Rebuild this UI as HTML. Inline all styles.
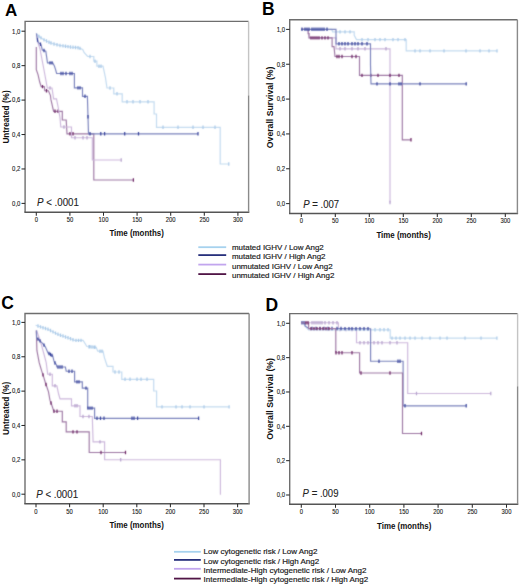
<!DOCTYPE html>
<html><head><meta charset="utf-8"><title>Kaplan-Meier figure</title>
<style>html,body{margin:0;padding:0;background:#fff;}body{width:520px;height:586px;overflow:hidden;font-family:'Liberation Sans', sans-serif;}svg{display:block;}</style>
</head><body>
<svg width="520" height="586" viewBox="0 0 520 586" font-family="'Liberation Sans', sans-serif">
<defs><filter id="bl" x="0" y="0" width="520" height="586" filterUnits="userSpaceOnUse" color-interpolation-filters="sRGB"><feConvolveMatrix order="3" kernelMatrix="0.03 0.09 0.03 0.09 0.52 0.09 0.03 0.09 0.03" edgeMode="duplicate"/></filter></defs>
<rect width="520" height="586" fill="#fff"/>
<text x="4.9" y="16.4" font-size="17" font-weight="bold" fill="#000">A</text>
<text x="262" y="14.8" font-size="17.5" font-weight="bold" fill="#000">B</text>
<text x="1.2" y="308.6" font-size="17.5" font-weight="bold" fill="#000">C</text>
<text x="265.6" y="310.5" font-size="17.5" font-weight="bold" fill="#000">D</text>
<path d="M25.1,212.2 L25.1,21.4 L248.6,21.4" fill="none" stroke="#6e6e6e" stroke-width="1.4"/>
<path d="M24.400000000000002,212.2 L249.29999999999998,212.2" fill="none" stroke="#555" stroke-width="1.5"/>
<path d="M248.6,21.4 L248.6,95.4" stroke="#c4c4c4" stroke-width="1.4"/>
<path d="M248.6,95.4 L248.6,212.2" stroke="#8a8a8a" stroke-width="1.4"/>
<path d="M21.5,31.20 L25.1,31.20" stroke="#2a2a2a" stroke-width="1.05"/>
<text transform="translate(20.40,33.50) scale(0.93,1)" font-size="6.4" text-anchor="end" fill="#222" stroke="#222" stroke-width="0.12">1,0</text>
<path d="M21.5,65.64 L25.1,65.64" stroke="#2a2a2a" stroke-width="1.05"/>
<text transform="translate(20.40,67.94) scale(0.93,1)" font-size="6.4" text-anchor="end" fill="#222" stroke="#222" stroke-width="0.12">0,8</text>
<path d="M21.5,100.08 L25.1,100.08" stroke="#2a2a2a" stroke-width="1.05"/>
<text transform="translate(20.40,102.38) scale(0.93,1)" font-size="6.4" text-anchor="end" fill="#222" stroke="#222" stroke-width="0.12">0,6</text>
<path d="M21.5,134.52 L25.1,134.52" stroke="#2a2a2a" stroke-width="1.05"/>
<text transform="translate(20.40,136.82) scale(0.93,1)" font-size="6.4" text-anchor="end" fill="#222" stroke="#222" stroke-width="0.12">0,4</text>
<path d="M21.5,168.96 L25.1,168.96" stroke="#2a2a2a" stroke-width="1.05"/>
<text transform="translate(20.40,171.26) scale(0.93,1)" font-size="6.4" text-anchor="end" fill="#222" stroke="#222" stroke-width="0.12">0,2</text>
<path d="M21.5,203.40 L25.1,203.40" stroke="#2a2a2a" stroke-width="1.05"/>
<text transform="translate(20.40,205.70) scale(0.93,1)" font-size="6.4" text-anchor="end" fill="#222" stroke="#222" stroke-width="0.12">0,0</text>
<path d="M36.30,212.2 L36.30,215.79999999999998" stroke="#2a2a2a" stroke-width="1.05"/>
<text transform="translate(36.30,222.00) scale(0.92,1)" font-size="6.4" text-anchor="middle" fill="#222" stroke="#222" stroke-width="0.12">0</text>
<path d="M69.90,212.2 L69.90,215.79999999999998" stroke="#2a2a2a" stroke-width="1.05"/>
<text transform="translate(69.90,222.00) scale(0.92,1)" font-size="6.4" text-anchor="middle" fill="#222" stroke="#222" stroke-width="0.12">50</text>
<path d="M103.50,212.2 L103.50,215.79999999999998" stroke="#2a2a2a" stroke-width="1.05"/>
<text transform="translate(103.50,222.00) scale(0.92,1)" font-size="6.4" text-anchor="middle" fill="#222" stroke="#222" stroke-width="0.12">100</text>
<path d="M137.10,212.2 L137.10,215.79999999999998" stroke="#2a2a2a" stroke-width="1.05"/>
<text transform="translate(137.10,222.00) scale(0.92,1)" font-size="6.4" text-anchor="middle" fill="#222" stroke="#222" stroke-width="0.12">150</text>
<path d="M170.70,212.2 L170.70,215.79999999999998" stroke="#2a2a2a" stroke-width="1.05"/>
<text transform="translate(170.70,222.00) scale(0.92,1)" font-size="6.4" text-anchor="middle" fill="#222" stroke="#222" stroke-width="0.12">200</text>
<path d="M204.30,212.2 L204.30,215.79999999999998" stroke="#2a2a2a" stroke-width="1.05"/>
<text transform="translate(204.30,222.00) scale(0.92,1)" font-size="6.4" text-anchor="middle" fill="#222" stroke="#222" stroke-width="0.12">250</text>
<path d="M237.90,212.2 L237.90,215.79999999999998" stroke="#2a2a2a" stroke-width="1.05"/>
<text transform="translate(237.90,222.00) scale(0.92,1)" font-size="6.4" text-anchor="middle" fill="#222" stroke="#222" stroke-width="0.12">300</text>
<path d="M289.7,213.5 L289.7,19.7 L517.4,19.7" fill="none" stroke="#6e6e6e" stroke-width="1.4"/>
<path d="M289.0,213.5 L518.1,213.5" fill="none" stroke="#555" stroke-width="1.5"/>
<path d="M517.4,19.7 L517.4,213.5" stroke="#8a8a8a" stroke-width="1.4"/>
<path d="M286.09999999999997,29.40 L289.7,29.40" stroke="#2a2a2a" stroke-width="1.05"/>
<text transform="translate(285.00,31.70) scale(0.93,1)" font-size="6.4" text-anchor="end" fill="#222" stroke="#222" stroke-width="0.12">1,0</text>
<path d="M286.09999999999997,64.24 L289.7,64.24" stroke="#2a2a2a" stroke-width="1.05"/>
<text transform="translate(285.00,66.54) scale(0.93,1)" font-size="6.4" text-anchor="end" fill="#222" stroke="#222" stroke-width="0.12">0,8</text>
<path d="M286.09999999999997,99.08 L289.7,99.08" stroke="#2a2a2a" stroke-width="1.05"/>
<text transform="translate(285.00,101.38) scale(0.93,1)" font-size="6.4" text-anchor="end" fill="#222" stroke="#222" stroke-width="0.12">0,6</text>
<path d="M286.09999999999997,133.92 L289.7,133.92" stroke="#2a2a2a" stroke-width="1.05"/>
<text transform="translate(285.00,136.22) scale(0.93,1)" font-size="6.4" text-anchor="end" fill="#222" stroke="#222" stroke-width="0.12">0,4</text>
<path d="M286.09999999999997,168.76 L289.7,168.76" stroke="#2a2a2a" stroke-width="1.05"/>
<text transform="translate(285.00,171.06) scale(0.93,1)" font-size="6.4" text-anchor="end" fill="#222" stroke="#222" stroke-width="0.12">0,2</text>
<path d="M286.09999999999997,203.60 L289.7,203.60" stroke="#2a2a2a" stroke-width="1.05"/>
<text transform="translate(285.00,205.90) scale(0.93,1)" font-size="6.4" text-anchor="end" fill="#222" stroke="#222" stroke-width="0.12">0,0</text>
<path d="M301.30,213.5 L301.30,217.1" stroke="#2a2a2a" stroke-width="1.05"/>
<text transform="translate(301.30,223.30) scale(0.92,1)" font-size="6.4" text-anchor="middle" fill="#222" stroke="#222" stroke-width="0.12">0</text>
<path d="M335.30,213.5 L335.30,217.1" stroke="#2a2a2a" stroke-width="1.05"/>
<text transform="translate(335.30,223.30) scale(0.92,1)" font-size="6.4" text-anchor="middle" fill="#222" stroke="#222" stroke-width="0.12">50</text>
<path d="M369.30,213.5 L369.30,217.1" stroke="#2a2a2a" stroke-width="1.05"/>
<text transform="translate(369.30,223.30) scale(0.92,1)" font-size="6.4" text-anchor="middle" fill="#222" stroke="#222" stroke-width="0.12">100</text>
<path d="M403.30,213.5 L403.30,217.1" stroke="#2a2a2a" stroke-width="1.05"/>
<text transform="translate(403.30,223.30) scale(0.92,1)" font-size="6.4" text-anchor="middle" fill="#222" stroke="#222" stroke-width="0.12">150</text>
<path d="M437.30,213.5 L437.30,217.1" stroke="#2a2a2a" stroke-width="1.05"/>
<text transform="translate(437.30,223.30) scale(0.92,1)" font-size="6.4" text-anchor="middle" fill="#222" stroke="#222" stroke-width="0.12">200</text>
<path d="M471.30,213.5 L471.30,217.1" stroke="#2a2a2a" stroke-width="1.05"/>
<text transform="translate(471.30,223.30) scale(0.92,1)" font-size="6.4" text-anchor="middle" fill="#222" stroke="#222" stroke-width="0.12">250</text>
<path d="M505.30,213.5 L505.30,217.1" stroke="#2a2a2a" stroke-width="1.05"/>
<text transform="translate(505.30,223.30) scale(0.92,1)" font-size="6.4" text-anchor="middle" fill="#222" stroke="#222" stroke-width="0.12">300</text>
<path d="M25.0,503.7 L25.0,313.5 L249.1,313.5" fill="none" stroke="#6e6e6e" stroke-width="1.4"/>
<path d="M24.3,503.7 L249.79999999999998,503.7" fill="none" stroke="#555" stroke-width="1.5"/>
<path d="M249.1,313.5 L249.1,503.7" stroke="#8a8a8a" stroke-width="1.4"/>
<path d="M21.4,322.40 L25.0,322.40" stroke="#2a2a2a" stroke-width="1.05"/>
<text transform="translate(20.30,324.70) scale(0.93,1)" font-size="6.4" text-anchor="end" fill="#222" stroke="#222" stroke-width="0.12">1,0</text>
<path d="M21.4,356.76 L25.0,356.76" stroke="#2a2a2a" stroke-width="1.05"/>
<text transform="translate(20.30,359.06) scale(0.93,1)" font-size="6.4" text-anchor="end" fill="#222" stroke="#222" stroke-width="0.12">0,8</text>
<path d="M21.4,391.12 L25.0,391.12" stroke="#2a2a2a" stroke-width="1.05"/>
<text transform="translate(20.30,393.42) scale(0.93,1)" font-size="6.4" text-anchor="end" fill="#222" stroke="#222" stroke-width="0.12">0,6</text>
<path d="M21.4,425.48 L25.0,425.48" stroke="#2a2a2a" stroke-width="1.05"/>
<text transform="translate(20.30,427.78) scale(0.93,1)" font-size="6.4" text-anchor="end" fill="#222" stroke="#222" stroke-width="0.12">0,4</text>
<path d="M21.4,459.84 L25.0,459.84" stroke="#2a2a2a" stroke-width="1.05"/>
<text transform="translate(20.30,462.14) scale(0.93,1)" font-size="6.4" text-anchor="end" fill="#222" stroke="#222" stroke-width="0.12">0,2</text>
<path d="M21.4,494.20 L25.0,494.20" stroke="#2a2a2a" stroke-width="1.05"/>
<text transform="translate(20.30,496.50) scale(0.93,1)" font-size="6.4" text-anchor="end" fill="#222" stroke="#222" stroke-width="0.12">0,0</text>
<path d="M36.00,503.7 L36.00,507.3" stroke="#2a2a2a" stroke-width="1.05"/>
<text transform="translate(36.00,513.50) scale(0.92,1)" font-size="6.4" text-anchor="middle" fill="#222" stroke="#222" stroke-width="0.12">0</text>
<path d="M69.60,503.7 L69.60,507.3" stroke="#2a2a2a" stroke-width="1.05"/>
<text transform="translate(69.60,513.50) scale(0.92,1)" font-size="6.4" text-anchor="middle" fill="#222" stroke="#222" stroke-width="0.12">50</text>
<path d="M103.20,503.7 L103.20,507.3" stroke="#2a2a2a" stroke-width="1.05"/>
<text transform="translate(103.20,513.50) scale(0.92,1)" font-size="6.4" text-anchor="middle" fill="#222" stroke="#222" stroke-width="0.12">100</text>
<path d="M136.80,503.7 L136.80,507.3" stroke="#2a2a2a" stroke-width="1.05"/>
<text transform="translate(136.80,513.50) scale(0.92,1)" font-size="6.4" text-anchor="middle" fill="#222" stroke="#222" stroke-width="0.12">150</text>
<path d="M170.40,503.7 L170.40,507.3" stroke="#2a2a2a" stroke-width="1.05"/>
<text transform="translate(170.40,513.50) scale(0.92,1)" font-size="6.4" text-anchor="middle" fill="#222" stroke="#222" stroke-width="0.12">200</text>
<path d="M204.00,503.7 L204.00,507.3" stroke="#2a2a2a" stroke-width="1.05"/>
<text transform="translate(204.00,513.50) scale(0.92,1)" font-size="6.4" text-anchor="middle" fill="#222" stroke="#222" stroke-width="0.12">250</text>
<path d="M237.60,503.7 L237.60,507.3" stroke="#2a2a2a" stroke-width="1.05"/>
<text transform="translate(237.60,513.50) scale(0.92,1)" font-size="6.4" text-anchor="middle" fill="#222" stroke="#222" stroke-width="0.12">300</text>
<path d="M289.7,504.2 L289.7,313.6 L517.6,313.6" fill="none" stroke="#6e6e6e" stroke-width="1.4"/>
<path d="M289.0,504.2 L518.3000000000001,504.2" fill="none" stroke="#555" stroke-width="1.5"/>
<path d="M517.6,313.6 L517.6,386.3" stroke="#c4c4c4" stroke-width="1.4"/>
<path d="M517.6,386.3 L517.6,504.2" stroke="#8a8a8a" stroke-width="1.4"/>
<path d="M286.09999999999997,323.30 L289.7,323.30" stroke="#2a2a2a" stroke-width="1.05"/>
<text transform="translate(285.00,325.60) scale(0.93,1)" font-size="6.4" text-anchor="end" fill="#222" stroke="#222" stroke-width="0.12">1,0</text>
<path d="M286.09999999999997,357.64 L289.7,357.64" stroke="#2a2a2a" stroke-width="1.05"/>
<text transform="translate(285.00,359.94) scale(0.93,1)" font-size="6.4" text-anchor="end" fill="#222" stroke="#222" stroke-width="0.12">0,8</text>
<path d="M286.09999999999997,391.98 L289.7,391.98" stroke="#2a2a2a" stroke-width="1.05"/>
<text transform="translate(285.00,394.28) scale(0.93,1)" font-size="6.4" text-anchor="end" fill="#222" stroke="#222" stroke-width="0.12">0,6</text>
<path d="M286.09999999999997,426.32 L289.7,426.32" stroke="#2a2a2a" stroke-width="1.05"/>
<text transform="translate(285.00,428.62) scale(0.93,1)" font-size="6.4" text-anchor="end" fill="#222" stroke="#222" stroke-width="0.12">0,4</text>
<path d="M286.09999999999997,460.66 L289.7,460.66" stroke="#2a2a2a" stroke-width="1.05"/>
<text transform="translate(285.00,462.96) scale(0.93,1)" font-size="6.4" text-anchor="end" fill="#222" stroke="#222" stroke-width="0.12">0,2</text>
<path d="M286.09999999999997,495.00 L289.7,495.00" stroke="#2a2a2a" stroke-width="1.05"/>
<text transform="translate(285.00,497.30) scale(0.93,1)" font-size="6.4" text-anchor="end" fill="#222" stroke="#222" stroke-width="0.12">0,0</text>
<path d="M301.30,504.2 L301.30,507.8" stroke="#2a2a2a" stroke-width="1.05"/>
<text transform="translate(301.30,514.00) scale(0.92,1)" font-size="6.4" text-anchor="middle" fill="#222" stroke="#222" stroke-width="0.12">0</text>
<path d="M335.50,504.2 L335.50,507.8" stroke="#2a2a2a" stroke-width="1.05"/>
<text transform="translate(335.50,514.00) scale(0.92,1)" font-size="6.4" text-anchor="middle" fill="#222" stroke="#222" stroke-width="0.12">50</text>
<path d="M369.70,504.2 L369.70,507.8" stroke="#2a2a2a" stroke-width="1.05"/>
<text transform="translate(369.70,514.00) scale(0.92,1)" font-size="6.4" text-anchor="middle" fill="#222" stroke="#222" stroke-width="0.12">100</text>
<path d="M403.90,504.2 L403.90,507.8" stroke="#2a2a2a" stroke-width="1.05"/>
<text transform="translate(403.90,514.00) scale(0.92,1)" font-size="6.4" text-anchor="middle" fill="#222" stroke="#222" stroke-width="0.12">150</text>
<path d="M438.10,504.2 L438.10,507.8" stroke="#2a2a2a" stroke-width="1.05"/>
<text transform="translate(438.10,514.00) scale(0.92,1)" font-size="6.4" text-anchor="middle" fill="#222" stroke="#222" stroke-width="0.12">200</text>
<path d="M472.30,504.2 L472.30,507.8" stroke="#2a2a2a" stroke-width="1.05"/>
<text transform="translate(472.30,514.00) scale(0.92,1)" font-size="6.4" text-anchor="middle" fill="#222" stroke="#222" stroke-width="0.12">250</text>
<path d="M506.50,504.2 L506.50,507.8" stroke="#2a2a2a" stroke-width="1.05"/>
<text transform="translate(506.50,514.00) scale(0.92,1)" font-size="6.4" text-anchor="middle" fill="#222" stroke="#222" stroke-width="0.12">300</text>
<text transform="translate(8.9,117.0) rotate(-90)" x="0" y="0" font-size="8.2" font-weight="bold" text-anchor="middle" fill="#111">Untreated (%)</text>
<text transform="translate(273.1,107.4) rotate(-90)" x="0" y="0" font-size="8.7" font-weight="bold" text-anchor="middle" fill="#111">Overall Survival (%)</text>
<text transform="translate(8.9,408.4) rotate(-90)" x="0" y="0" font-size="8.2" font-weight="bold" text-anchor="middle" fill="#111">Untreated (%)</text>
<text transform="translate(273.1,398.9) rotate(-90)" x="0" y="0" font-size="8.7" font-weight="bold" text-anchor="middle" fill="#111">Overall Survival (%)</text>
<text x="136.6" y="236.4" font-size="8.6" font-weight="bold" text-anchor="middle" fill="#111" textLength="54.4" lengthAdjust="spacingAndGlyphs">Time (months)</text>
<text x="403.6" y="237.8" font-size="8.6" font-weight="bold" text-anchor="middle" fill="#111" textLength="54.4" lengthAdjust="spacingAndGlyphs">Time (months)</text>
<text x="136.6" y="527.9" font-size="8.6" font-weight="bold" text-anchor="middle" fill="#111" textLength="54.4" lengthAdjust="spacingAndGlyphs">Time (months)</text>
<text x="404.2" y="528.5" font-size="8.6" font-weight="bold" text-anchor="middle" fill="#111" textLength="54.4" lengthAdjust="spacingAndGlyphs">Time (months)</text>
<text transform="translate(37.0,206.0) scale(0.9,1)" font-size="10.8" fill="#222" stroke="#222" stroke-width="0.1"><tspan font-style="italic">P</tspan> &lt; .0001</text>
<text transform="translate(303.3,207.6) scale(0.92,1)" font-size="10.4" fill="#222" stroke="#222" stroke-width="0.1"><tspan font-style="italic">P</tspan> = .007</text>
<text transform="translate(36.2,497.5) scale(0.9,1)" font-size="10.8" fill="#222" stroke="#222" stroke-width="0.1"><tspan font-style="italic">P</tspan> &lt; .0001</text>
<text transform="translate(302.6,497.4) scale(0.92,1)" font-size="10.4" fill="#222" stroke="#222" stroke-width="0.1"><tspan font-style="italic">P</tspan> = .009</text>
<g filter="url(#bl)">
<path d="M36.3,47 L36.3,69.7 L38.1,74.8 L39.7,82 L41.2,86.6 L44.3,86.6 L44.8,90.7 L48.4,90.7 L50.4,95.3 L50.9,99.4 L53.6,111.3 L62.3,111.3 L62.3,120 L66.2,120 L67,133.8 L93.8,133.8 L93.8,180 L133.4,180" fill="none" stroke="#9e78a4" stroke-width="1.15" stroke-linejoin="miter"/>
<path d="M42.5,84.89999999999999 L42.5,88.3 M46.5,89.0 L46.5,92.4 M55,109.6 L55,113.0 M58,109.6 L58,113.0 M70,132.10000000000002 L70,135.5 M73,132.10000000000002 L73,135.5 M133.4,178.3 L133.4,181.7" stroke="#6a2060" stroke-width="1.2"/>
<path d="M36.4,33.5 L38.1,43 L40,49 L44,70 L47.3,88 L52,88 L53.6,98.8 L56.5,98.8 L58.3,108 L60,117.7 L60.8,127 L71.5,127 L71.5,137.7 L92.3,137.7 L92.3,160 L121.2,160" fill="none" stroke="#cdb8dc" stroke-width="1.15" stroke-linejoin="miter"/>
<path d="M50,86.3 L50,89.7 M64,125.3 L64,128.7 M75,136.0 L75,139.39999999999998 M83,136.0 L83,139.39999999999998 M87,136.0 L87,139.39999999999998 M121.2,158.3 L121.2,161.7" stroke="#b4a0cc" stroke-width="1.2"/>
<path d="M36.4,33.3 L39,36.5 L43.5,39.6 L48,41.8 L52.7,43.6 L59.6,45.4 L71,47.1 L78,47.7 L82.7,49.4 L84.2,52.7 L87.7,56.5 L93.8,56.5 L93.8,61.2 L96.9,61.2 L96.9,66.2 L103,66.2 L105.4,77.3 L107,88 L113.8,88 L113.8,93.8 L122.2,93.8 L122.2,101.8 L154.1,101.8 L154.1,114 L156.5,114 L156.5,127.3 L220.2,127.3 L220.2,164 L228.8,164" fill="none" stroke="#c4dbf0" stroke-width="1.2" stroke-linejoin="miter"/>
<path d="M39,34.8 L39,38.2 M41,36.18 L41,39.580000000000005 M44,38.14 L44,41.540000000000006 M46.5,39.37 L46.5,42.77 M49,40.48 L49,43.88 M51,41.25 L51,44.650000000000006 M54,42.239999999999995 L54,45.64 M57,43.019999999999996 L57,46.42 M60,43.76 L60,47.160000000000004 M63,44.209999999999994 L63,47.61 M65.5,44.58 L65.5,47.980000000000004 M68,44.949999999999996 L68,48.35 M70.5,45.33 L70.5,48.730000000000004 M73,45.57 L73,48.970000000000006 M75.5,45.79 L75.5,49.190000000000005 M78,46.0 L78,49.400000000000006 M80,46.72 L80,50.120000000000005 M90,54.8 L90,58.2 M95,59.5 L95,62.900000000000006 M99,64.5 L99,67.9 M101,64.5 L101,67.9 M110,86.3 L110,89.7 M117,92.1 L117,95.5 M127,100.1 L127,103.5 M133,100.1 L133,103.5 M140,100.1 L140,103.5 M148,100.1 L148,103.5 M163,125.6 L163,129.0 M178,125.6 L178,129.0 M193,125.6 L193,129.0 M203,125.6 L203,129.0 M215,125.6 L215,129.0 M228.8,162.3 L228.8,165.7" stroke="#a9c9e8" stroke-width="1.2"/>
<path d="M36.4,33.5 L37.5,40 L38.3,42.5 L41.1,44.8 L42.3,50 L45.8,51.1 L46.3,54.6 L47.5,62.9 L52.7,62.9 L54.4,66.1 L55.6,69.6 L56.6,73.5 L74.4,73.5 L74.4,87.9 L82.5,87.9 L82.5,96.3 L87.4,96.3 L88.5,133.8 L198,133.8" fill="none" stroke="#7a82bc" stroke-width="1.15" stroke-linejoin="miter"/>
<path d="M37.5,38.3 L37.5,41.7 M40.5,42.61 L40.5,46.010000000000005 M44,48.83 L44,52.230000000000004 M50,61.199999999999996 L50,64.6 M52,61.199999999999996 L52,64.6 M61,71.8 L61,75.2 M63,71.8 L63,75.2 M66,71.8 L66,75.2 M70,71.8 L70,75.2 M72,71.8 L72,75.2 M78,86.2 L78,89.60000000000001 M80,86.2 L80,89.60000000000001 M85,94.6 L85,98.0 M88,115.05 L88,118.45 M90,132.10000000000002 L90,135.5 M100.8,132.10000000000002 L100.8,135.5 M104.6,132.10000000000002 L104.6,135.5 M124.7,132.10000000000002 L124.7,135.5 M138.5,132.10000000000002 L138.5,135.5 M198,132.10000000000002 L198,135.5" stroke="#34409a" stroke-width="1.2"/>
<path d="M301.2,29.3 L331.7,29.3 L332.6,31.9 L354.2,31.9 L354.2,35.4 L356.5,39.6 L406.2,39.6 L406.2,50.9 L497,50.9" fill="none" stroke="#c4dbf0" stroke-width="1.2" stroke-linejoin="miter"/>
<path d="M340,30.2 L340,33.6 M345,30.2 L345,33.6 M350,30.2 L350,33.6 M362,37.9 L362,41.300000000000004 M368,37.9 L368,41.300000000000004 M375,37.9 L375,41.300000000000004 M380,37.9 L380,41.300000000000004 M385,37.9 L385,41.300000000000004 M393,37.9 L393,41.300000000000004 M398,37.9 L398,41.300000000000004 M405,37.9 L405,41.300000000000004 M415,49.199999999999996 L415,52.6 M420,49.199999999999996 L420,52.6 M430,49.199999999999996 L430,52.6 M444,49.199999999999996 L444,52.6 M466,49.199999999999996 L466,52.6 M480,49.199999999999996 L480,52.6 M489,49.199999999999996 L489,52.6 M497,49.199999999999996 L497,52.6" stroke="#a9c9e8" stroke-width="1.2"/>
<path d="M301.2,29.3 L308.1,29.3 L309.1,37.9 L336,37.9 L336,48.8 L390,48.8 L390,202.5" fill="none" stroke="#cdb8dc" stroke-width="1.15" stroke-linejoin="miter"/>
<path d="M340,47.099999999999994 L340,50.5 M345,47.099999999999994 L345,50.5 M352,47.099999999999994 L352,50.5 M358,47.099999999999994 L358,50.5 M365,47.099999999999994 L365,50.5 M386,47.099999999999994 L386,50.5 M390,200.8 L390,204.2" stroke="#b4a0cc" stroke-width="1.2"/>
<path d="M301.2,29.3 L308.1,29.3 L308.1,33.6 L309.1,33.6 L309.1,37.9 L332.1,37.9 L332.1,46.6 L334,46.6 L335,56.5 L359.5,56.5 L359.5,75.4 L402.3,75.4 L402.3,139.8 L411,139.8" fill="none" stroke="#9e78a4" stroke-width="1.15" stroke-linejoin="miter"/>
<path d="M311,36.199999999999996 L311,39.6 M313,36.199999999999996 L313,39.6 M315,36.199999999999996 L315,39.6 M317,36.199999999999996 L317,39.6 M319,36.199999999999996 L319,39.6 M322,36.199999999999996 L322,39.6 M325,36.199999999999996 L325,39.6 M328,36.199999999999996 L328,39.6 M337,54.8 L337,58.2 M339,54.8 L339,58.2 M342,54.8 L342,58.2 M352,54.8 L352,58.2 M356,54.8 L356,58.2 M362,73.7 L362,77.10000000000001 M370.8,73.7 L370.8,77.10000000000001 M378,73.7 L378,77.10000000000001 M390,73.7 L390,77.10000000000001 M399,73.7 L399,77.10000000000001 M411,138.10000000000002 L411,141.5" stroke="#6a2060" stroke-width="1.2"/>
<path d="M301.2,29.3 L336,29.3 L336,43.8 L370.5,43.8 L370.5,64.6 L371,83.9 L466.2,83.9" fill="none" stroke="#7a82bc" stroke-width="1.15" stroke-linejoin="miter"/>
<path d="M302,27.6 L302,31.0 M305,27.6 L305,31.0 M307,27.6 L307,31.0 M309,27.6 L309,31.0 M312,27.6 L312,31.0 M314,27.6 L314,31.0 M316,27.6 L316,31.0 M318,27.6 L318,31.0 M320,27.6 L320,31.0 M322,27.6 L322,31.0 M324,27.6 L324,31.0 M327,27.6 L327,31.0 M339,42.099999999999994 L339,45.5 M342,42.099999999999994 L342,45.5 M345,42.099999999999994 L345,45.5 M348,42.099999999999994 L348,45.5 M352,42.099999999999994 L352,45.5 M355,42.099999999999994 L355,45.5 M358,42.099999999999994 L358,45.5 M362,42.099999999999994 L362,45.5 M367,42.099999999999994 L367,45.5 M377,82.2 L377,85.60000000000001 M390,82.2 L390,85.60000000000001 M399,82.2 L399,85.60000000000001 M401,82.2 L401,85.60000000000001 M420,82.2 L420,85.60000000000001 M466.2,82.2 L466.2,85.60000000000001" stroke="#34409a" stroke-width="1.2"/>
<path d="M35.6,325.3 L48,329.3 L57.7,334.2 L68.5,338 L74.6,340.4 L83.1,340.4 L86.9,346.5 L96.2,347.3 L97.7,351.2 L103,351.2 L104.4,357.6 L107.3,366.3 L113,366.3 L113,372 L121.8,372 L121.8,379.3 L153.7,379.3 L153.7,391 L156.6,391 L156.6,406.9 L229.1,406.9" fill="none" stroke="#c4dbf0" stroke-width="1.2" stroke-linejoin="miter"/>
<path d="M38,324.37 L38,327.77 M40.5,325.18 L40.5,328.58 M43,325.99 L43,329.39 M45.5,326.79 L45.5,330.19 M48,327.6 L48,331.0 M50.5,328.86 L50.5,332.26 M53,330.13 L53,333.53 M55.5,331.39 L55.5,334.78999999999996 M58,332.61 L58,336.01 M60.5,333.49 L60.5,336.89 M63,334.36 L63,337.76 M65.5,335.24 L65.5,338.64 M68,336.12 L68,339.52 M70.5,337.09000000000003 L70.5,340.49 M73,338.07 L73,341.46999999999997 M76,338.7 L76,342.09999999999997 M78.5,338.7 L78.5,342.09999999999997 M81,338.7 L81,342.09999999999997 M89,344.98 L89,348.38 M92,345.24 L92,348.64 M95,345.5 L95,348.9 M100,349.5 L100,352.9 M102,349.5 L102,352.9 M90,345.07 L90,348.46999999999997 M94,345.41 L94,348.81 M100,349.5 L100,352.9 M115,370.3 L115,373.7 M119,370.3 L119,373.7 M125,377.6 L125,381.0 M130,377.6 L130,381.0 M137,377.6 L137,381.0 M141,377.6 L141,381.0 M147,377.6 L147,381.0 M162,405.2 L162,408.59999999999997 M176,405.2 L176,408.59999999999997 M182,405.2 L182,408.59999999999997 M190,405.2 L190,408.59999999999997 M204,405.2 L204,408.59999999999997 M229.1,405.2 L229.1,408.59999999999997" stroke="#a9c9e8" stroke-width="1.2"/>
<path d="M36.6,330.5 L40.8,342.7 L43.8,353.5 L46.2,362.7 L47.7,374.2 L52.3,374.2 L52.3,385.8 L56.9,385.8 L58.5,393.5 L60,398.8 L71.5,398.8 L71.5,405.8 L80,405.8 L80,416.5 L92.3,416.5 L93.1,441.9 L104.6,441.9 L104.6,459.7 L220.4,459.7 L220.4,494.8" fill="none" stroke="#cdb8dc" stroke-width="1.15" stroke-linejoin="miter"/>
<path d="M50,372.5 L50,375.9 M55,384.1 L55,387.5 M75,404.1 L75,407.5 M77,404.1 L77,407.5 M83,414.8 L83,418.2 M89,414.8 L89,418.2 M100,440.2 L100,443.59999999999997 M120.7,458.0 L120.7,461.4" stroke="#b4a0cc" stroke-width="1.2"/>
<path d="M36.2,330.5 L36.5,336 L36.9,350.4 L39.2,362.7 L41.5,370.4 L43.8,377.3 L45.4,382.7 L46.2,385 L48.5,391.9 L50,400.4 L51.5,404.2 L53.8,411.2 L62.3,411.2 L62.3,421.9 L66.2,421.9 L66.2,431.9 L89.2,431.9 L89.2,452.5 L125.5,452.5" fill="none" stroke="#9e78a4" stroke-width="1.15" stroke-linejoin="miter"/>
<path d="M43,373.2 L43,376.59999999999997 M46,382.73 L46,386.13 M51,401.23 L51,404.63 M54,409.5 L54,412.9 M57,409.5 L57,412.9 M73,430.2 L73,433.59999999999997 M77,430.2 L77,433.59999999999997 M101,450.8 L101,454.2 M125.5,450.8 L125.5,454.2" stroke="#6a2060" stroke-width="1.2"/>
<path d="M36.5,330.5 L36.6,338 L38.8,339.7 L42.3,343.1 L45.2,346.6 L48.1,353 L52.7,355.8 L53.8,360.4 L54.6,362.7 L56.2,364.2 L56.9,367 L65.4,367 L66.2,371.2 L74.6,371.2 L74.6,381.9 L82.3,381.9 L82.3,388.1 L87.7,388.1 L87.7,408.1 L94.6,408.1 L94.6,418.3 L198.6,418.3" fill="none" stroke="#7a82bc" stroke-width="1.15" stroke-linejoin="miter"/>
<path d="M38,337.38 L38,340.78 M40,339.17 L40,342.57 M44,343.45 L44,346.84999999999997 M49,351.85 L49,355.25 M50.5,352.76 L50.5,356.15999999999997 M52,353.67 L52,357.07 M55,361.37 L55,364.77 M58,365.3 L58,368.7 M60,365.3 L60,368.7 M62,365.3 L62,368.7 M69,369.5 L69,372.9 M72,369.5 L72,372.9 M77,380.2 L77,383.59999999999997 M79,380.2 L79,383.59999999999997 M86,386.40000000000003 L86,389.8 M88,406.40000000000003 L88,409.8 M90,406.40000000000003 L90,409.8 M92,406.40000000000003 L92,409.8 M97,416.6 L97,420.0 M100.5,416.6 L100.5,420.0 M104,416.6 L104,420.0 M132,416.6 L132,420.0 M134,416.6 L134,420.0 M137.6,416.6 L137.6,420.0 M198.6,416.6 L198.6,420.0" stroke="#34409a" stroke-width="1.2"/>
<path d="M301.2,322.7 L338.4,322.7 L338.4,329.6 L356.5,329.6 L356.5,342.7 L407.7,342.7 L407.7,393.5 L490.8,393.5" fill="none" stroke="#cdb8dc" stroke-width="1.15" stroke-linejoin="miter"/>
<path d="M312,321.0 L312,324.4 M314,321.0 L314,324.4 M316,321.0 L316,324.4 M318,321.0 L318,324.4 M320,321.0 L320,324.4 M322,321.0 L322,324.4 M325,321.0 L325,324.4 M329,321.0 L329,324.4 M333,321.0 L333,324.4 M337,321.0 L337,324.4 M340,327.90000000000003 L340,331.3 M346,327.90000000000003 L346,331.3 M352,327.90000000000003 L352,331.3 M360,341.0 L360,344.4 M364,341.0 L364,344.4 M368,341.0 L368,344.4 M374,341.0 L374,344.4 M378,341.0 L378,344.4 M382,341.0 L382,344.4 M390,341.0 L390,344.4 M397,341.0 L397,344.4 M416.5,391.8 L416.5,395.2 M490.8,391.8 L490.8,395.2" stroke="#b4a0cc" stroke-width="1.2"/>
<path d="M301.2,322.7 L305,322.7 L305,326 L308.6,329.8 L390.2,329.8 L390.2,338.1 L496.9,338.1" fill="none" stroke="#c4dbf0" stroke-width="1.2" stroke-linejoin="miter"/>
<path d="M375,328.1 L375,331.5 M380,328.1 L380,331.5 M384,328.1 L384,331.5 M388,328.1 L388,331.5 M392,336.40000000000003 L392,339.8 M396,336.40000000000003 L396,339.8 M400,336.40000000000003 L400,339.8 M405,336.40000000000003 L405,339.8 M410,336.40000000000003 L410,339.8 M415,336.40000000000003 L415,339.8 M422,336.40000000000003 L422,339.8 M430,336.40000000000003 L430,339.8 M440,336.40000000000003 L440,339.8 M447,336.40000000000003 L447,339.8 M465,336.40000000000003 L465,339.8 M481,336.40000000000003 L481,339.8 M496.9,336.40000000000003 L496.9,339.8" stroke="#a9c9e8" stroke-width="1.2"/>
<path d="M301.2,322.7 L305,322.7 L305,326 L308.6,328.3 L370.6,328.8 L370.6,361.2 L403.1,361.2 L403.1,405.8 L466.2,405.8" fill="none" stroke="#7a82bc" stroke-width="1.15" stroke-linejoin="miter"/>
<path d="M302,321.0 L302,324.4 M304,321.0 L304,324.4 M312,326.63 L312,330.03 M316,326.66 L316,330.06 M320,326.69 L320,330.09 M324,326.72 L324,330.12 M328,326.76 L328,330.15999999999997 M332,326.79 L332,330.19 M337,326.83 L337,330.22999999999996 M341,326.86 L341,330.26 M345,326.89 L345,330.28999999999996 M349,326.93 L349,330.33 M352,326.95 L352,330.34999999999997 M356,326.98 L356,330.38 M360,327.01 L360,330.40999999999997 M364,327.05 L364,330.45 M368,327.08 L368,330.47999999999996 M379,359.5 L379,362.9 M398,359.5 L398,362.9 M400,359.5 L400,362.9 M405,404.1 L405,407.5 M466.2,404.1 L466.2,407.5" stroke="#34409a" stroke-width="1.2"/>
<path d="M301.2,322.7 L308.6,322.7 L308.6,328.6 L335.8,328.6 L335.8,352.7 L359.6,352.7 L359.6,373 L402.5,373 L402.5,433.5 L421.5,433.5" fill="none" stroke="#9e78a4" stroke-width="1.15" stroke-linejoin="miter"/>
<path d="M306,321.0 L306,324.4 M308,321.0 L308,324.4 M311,326.90000000000003 L311,330.3 M314,326.90000000000003 L314,330.3 M317,326.90000000000003 L317,330.3 M320,326.90000000000003 L320,330.3 M323,326.90000000000003 L323,330.3 M326,326.90000000000003 L326,330.3 M329,326.90000000000003 L329,330.3 M336,351.0 L336,354.4 M339,351.0 L339,354.4 M342,351.0 L342,354.4 M352,351.0 L352,354.4 M361,371.3 L361,374.7 M390,371.3 L390,374.7 M421.5,431.8 L421.5,435.2" stroke="#6a2060" stroke-width="1.2"/>
</g>
<path d="M198.3,247.2 L226.2,247.2" stroke="#a6d2ee" stroke-width="1.8"/>
<text x="232.0" y="249.5" font-size="7.95" fill="#1a1a1a" stroke="#1a1a1a" stroke-width="0.18">mutated IGHV / Low Ang2</text>
<path d="M198.3,255.1 L226.2,255.1" stroke="#27307c" stroke-width="1.8"/>
<text x="232.0" y="258.7" font-size="7.95" fill="#1a1a1a" stroke="#1a1a1a" stroke-width="0.18">mutated IGHV / High Ang2</text>
<path d="M198.3,264.6 L226.2,264.6" stroke="#c2a6ee" stroke-width="1.8"/>
<text x="232.0" y="268.7" font-size="7.95" fill="#1a1a1a" stroke="#1a1a1a" stroke-width="0.18">unmutated IGHV / Low Ang2</text>
<path d="M198.3,274.1 L226.2,274.1" stroke="#501446" stroke-width="1.8"/>
<text x="232.0" y="277.8" font-size="7.95" fill="#1a1a1a" stroke="#1a1a1a" stroke-width="0.18">unmutated IGHV / High Ang2</text>
<path d="M174.0,551.8 L200.8,551.8" stroke="#a6d2ee" stroke-width="1.8"/>
<text x="203.6" y="554.0" font-size="8.0" fill="#1a1a1a" stroke="#1a1a1a" stroke-width="0.18">Low cytogenetic risk / Low Ang2</text>
<path d="M174.0,559.9 L200.8,559.9" stroke="#27307c" stroke-width="1.8"/>
<text x="203.6" y="563.6" font-size="8.0" fill="#1a1a1a" stroke="#1a1a1a" stroke-width="0.18">Low cytogenetic risk / High Ang2</text>
<path d="M174.0,568.8 L200.8,568.8" stroke="#c2a6ee" stroke-width="1.8"/>
<text x="203.6" y="573.0" font-size="8.0" fill="#1a1a1a" stroke="#1a1a1a" stroke-width="0.18">Intermediate-High cytogenetic risk / Low Ang2</text>
<path d="M174.0,578.6 L200.8,578.6" stroke="#501446" stroke-width="1.8"/>
<text x="203.6" y="582.1" font-size="8.0" fill="#1a1a1a" stroke="#1a1a1a" stroke-width="0.18">Intermediate-High cytogenetic risk / High Ang2</text>
</svg>
</body></html>
